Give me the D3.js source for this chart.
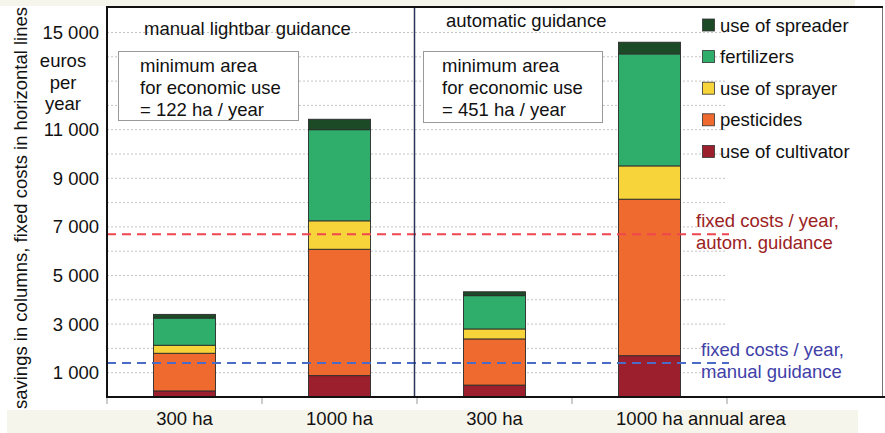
<!DOCTYPE html>
<html>
<head>
<meta charset="utf-8">
<script src="https://cdn.jsdelivr.net/npm/d3@7"></script>
<style>
  body { margin: 0; background: #fff; }
  svg { display: block; font-family: "Liberation Sans", Arial, Helvetica, sans-serif; }
</style>
</head>
<body>
<div id="chart"></div>
<script>
const categories = ["300 ha manual", "1000 ha manual", "300 ha auto", "1000 ha auto"]
const categoryLabels = [["300 ha", ""], ["1000 ha", ""], ["300 ha", ""], ["1000 ha", " annual area"]]
const seriesKeys = ["cultivator", "pesticides", "sprayer", "fertilizers", "spreader"]
const seriesNames = ["use of cultivator", "pesticides", "use of sprayer", "fertilizers", "use of spreader"]
const seriesColors = ["#9c1f2e", "#ee6a2e", "#f6d43a", "#2fad6a", "#1c4a27"]

// savings per category, euros per year
const cultivator = [250, 880, 490, 1700]
const pesticides = [1550, 5200, 1900, 6440]
const sprayer = [330, 1170, 410, 1370]
const fertilizers = [1120, 3750, 1370, 4610]
const spreader = [150, 430, 160, 480]

const fixedCosts = [
    {value: 6700, lines: ["fixed costs / year,", "autom. guidance"], stroke: "#ef4650", fill: "#9b2222", x: 696},
    {value: 1400, lines: ["fixed costs / year,", "manual guidance"], stroke: "#4b6cc6", fill: "#4040a8", x: 701}
]
const yTicks = [1000, 3000, 5000, 7000, 9000, 11000, 15000]
const gridValues = d3.range(1000, 15001, 1000)

const panels = [
    {title: "manual lightbar guidance", box: ["minimum area", "for economic use", "= 122 ha / year"]},
    {title: "automatic guidance", box: ["minimum area", "for economic use", "= 451 ha / year"]}
]

const W = 885, H = 433
const margin = {top: 7, left: 107, bottom: 36, right: 2}
const plotBottom = H - margin.bottom
const plotRight = W - margin.right
const bandEnd = 727
const fs = 18.5

const svg = d3.select("#chart").append("svg")
    .attr("width", W)
    .attr("height", H)

// beige strips of the scanned figure
svg.append("rect").attr("x", 0).attr("y", 0).attr("width", 855).attr("height", 6).attr("fill", "#f6f5ec")
svg.append("rect").attr("x", 7).attr("y", 410).attr("width", 851).attr("height", 23).attr("fill", "#f6f5ec")

const x = d3.scaleBand()
    .domain(categories)
    .range([margin.left, bandEnd])
    .paddingInner(0.6)
    .paddingOuter(0.3)

const y = d3.scaleLinear()
    .domain([0, 15000])
    .range([plotBottom, 32.5])

const fmt = d3.formatLocale({decimal: ".", thousands: " ", grouping: [3], currency: ["", ""]}).format(",")

// grid
svg.append("g")
    .selectAll("line")
    .data(gridValues)
    .join("line")
        .attr("x1", margin.left)
        .attr("x2", bandEnd)
        .attr("y1", d => y(d))
        .attr("y2", d => y(d))
        .attr("stroke", "#c4c4c4")
        .attr("stroke-width", 1)
        .attr("stroke-dasharray", "2,2")

// stacked bars
const rows = categories.map((c, i) => ({
    category: c,
    cultivator: cultivator[i], pesticides: pesticides[i], sprayer: sprayer[i],
    fertilizers: fertilizers[i], spreader: spreader[i]
}))
const stacked = d3.stack().keys(seriesKeys)(rows)
const color = d3.scaleOrdinal().domain(seriesKeys).range(seriesColors)

svg.append("g")
    .selectAll("g")
    .data(stacked)
    .join("g")
        .attr("fill", d => color(d.key))
    .selectAll("rect")
    .data(d => d)
    .join("rect")
        .attr("x", d => x(d.data.category))
        .attr("width", x.bandwidth())
        .attr("y", d => y(d[1]))
        .attr("height", d => y(d[0]) - y(d[1]))
        .attr("stroke", "#2b2b2b")
        .attr("stroke-width", 0.9)

// fixed cost lines
fixedCosts.forEach(f => {
    svg.append("line")
        .attr("x1", margin.left)
        .attr("x2", 729)
        .attr("y1", y(f.value))
        .attr("y2", y(f.value))
        .attr("stroke", f.stroke)
        .attr("stroke-width", 2)
        .attr("stroke-dasharray", "9,6")
    const t = svg.append("text")
        .attr("y", y(f.value) - 7)
        .attr("font-size", fs)
        .attr("fill", f.fill)
    f.lines.forEach((l, j) => t.append("tspan")
        .attr("x", f.x)
        .attr("dy", j === 0 ? 0 : 22)
        .text(l))
})

// frame
const boundary = x(categories[2]) - x.step() * x.paddingInner() / 2
svg.append("line").attr("x1", boundary - 2.5).attr("x2", boundary - 2.5)
    .attr("y1", margin.top).attr("y2", plotBottom)
    .attr("stroke", "#2a3358").attr("stroke-width", 1.5)
svg.append("line").attr("x1", plotRight - 0.5).attr("x2", plotRight - 0.5)
    .attr("y1", margin.top).attr("y2", plotBottom)
    .attr("stroke", "#777").attr("stroke-width", 1)
svg.append("line").attr("x1", margin.left).attr("x2", plotRight)
    .attr("y1", margin.top).attr("y2", margin.top)
    .attr("stroke", "#111").attr("stroke-width", 2)
svg.append("line").attr("x1", margin.left).attr("x2", margin.left)
    .attr("y1", margin.top - 1).attr("y2", plotBottom + 1)
    .attr("stroke", "#111").attr("stroke-width", 2)

// y axis
const yAxis = svg.append("g")
    .attr("transform", `translate(${margin.left}, 0)`)
    .call(d3.axisLeft(y).tickValues(yTicks).tickSize(0).tickPadding(8).tickFormat(fmt))
yAxis.select(".domain").remove()
yAxis.selectAll("text")
    .attr("font-size", fs)
    .attr("font-family", "Liberation Sans, Arial, sans-serif")
    .attr("fill", "#111")

// x axis
const boundaries = categories.map(c => x(c) - x.step() * x.paddingInner() / 2).concat([bandEnd])
svg.append("g")
    .selectAll("line")
    .data(boundaries)
    .join("line")
        .attr("x1", d => d).attr("x2", d => d)
        .attr("y1", plotBottom).attr("y2", plotBottom + 7)
        .attr("stroke", "#999")
svg.append("line").attr("x1", margin.left - 1).attr("x2", W)
    .attr("y1", plotBottom).attr("y2", plotBottom)
    .attr("stroke", "#111").attr("stroke-width", 2)

const catText = svg.append("g")
    .selectAll("text")
    .data(categories)
    .join("text")
        .attr("y", 425)
        .attr("font-size", fs)
        .attr("fill", "#111")
catText.append("tspan").text((d, i) => categoryLabels[i][0])
catText.append("tspan").text((d, i) => categoryLabels[i][1])
catText.each(function(d) {
    const main = d3.select(this).select("tspan").node().getComputedTextLength()
    d3.select(this).attr("x", x(d) + x.bandwidth() / 2 - main / 2)
})

// axis title and units
svg.append("text")
    .attr("transform", `translate(27, 208) rotate(-90)`)
    .attr("text-anchor", "middle")
    .attr("font-size", fs)
    .attr("fill", "#111")
    .text("savings in columns, fixed costs in horizontal lines")

const units = svg.append("text")
    .attr("text-anchor", "middle")
    .attr("font-size", fs)
    .attr("fill", "#111")
;["euros", "per", "year"].forEach((s, i) => units.append("tspan")
    .attr("x", 63).attr("y", 67 + i * 21.5).text(s))

// panel titles and boxes
const panelX = [144, 446]
const panelY = [35, 27]
const boxX = [118, 423], boxW = [180, 179], boxH = [69, 71]
panels.forEach((p, i) => {
    svg.append("text")
        .attr("x", panelX[i]).attr("y", panelY[i])
        .attr("font-size", fs).attr("fill", "#111")
        .text(p.title)
    svg.append("rect")
        .attr("x", boxX[i] + 0.5).attr("y", 51.5)
        .attr("width", boxW[i]).attr("height", boxH[i])
        .attr("fill", "#fff").attr("stroke", "#999")
    const t = svg.append("text").attr("font-size", fs).attr("fill", "#111")
    p.box.forEach((l, j) => t.append("tspan")
        .attr("x", boxX[i] + (i === 0 ? 22 : 19))
        .attr("y", 72 + j * 22)
        .text(l))
})

// legend, top entry first
const legend = svg.append("g")
    .selectAll("g")
    .data(seriesKeys.slice().reverse())
    .join("g")
        .attr("transform", (d, i) => `translate(702, ${25 + i * 31.6})`)
legend.append("rect")
    .attr("x", 0.5).attr("y", -6)
    .attr("width", 12).attr("height", 12)
    .attr("fill", d => color(d))
    .attr("stroke", "#333").attr("stroke-width", 0.8)
legend.append("text")
    .attr("x", 18).attr("y", 6.5)
    .attr("font-size", fs).attr("fill", "#111")
    .text(d => seriesNames[seriesKeys.indexOf(d)])
</script>
</body>
</html>
